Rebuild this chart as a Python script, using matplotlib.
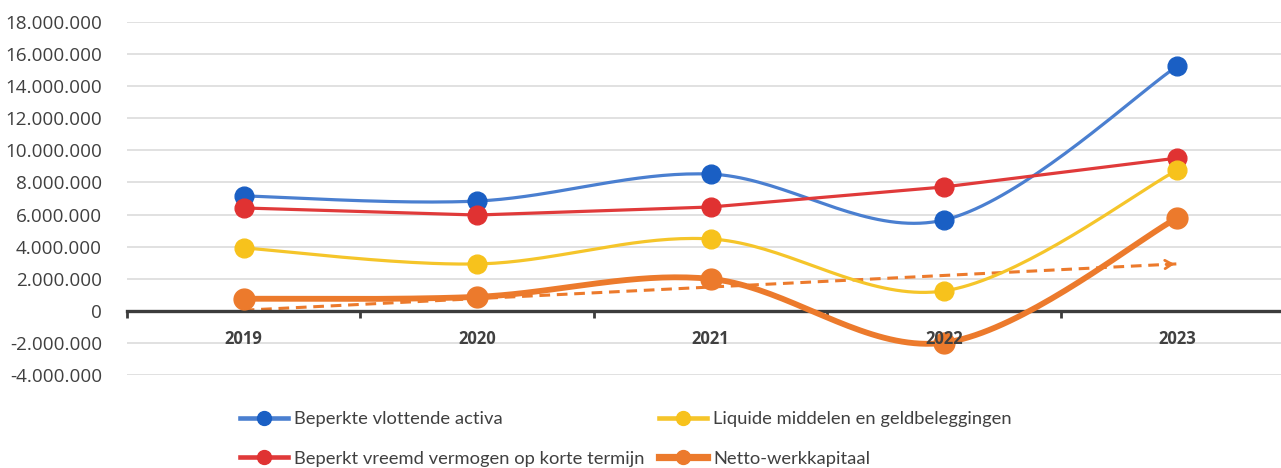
import numpy as np
import matplotlib
matplotlib.use("Agg")
import matplotlib.pyplot as plt
from matplotlib.ticker import FuncFormatter, FixedLocator

plt.rcParams['font.family'] = ['Open Sans', 'DejaVu Sans']

years = ["2019", "2020", "2021", "2022", "2023"]
vlottende_activa = [7160000, 6840000, 8520000, 5660000, 15250000]
vreemd_vermogen_kt = [6410000, 5970000, 6470000, 7720000, 9520000]
liquide_middelen = [3920000, 2920000, 4480000, 1240000, 8770000]
netto_werkkapitaal = [750000, 870000, 1990000, -1990000, 5790000]

labels = ["Beperkte vlottende activa",
          "Liquide middelen en geldbeleggingen",
          "Beperkt vreemd vermogen op korte termijn",
          "Netto-werkkapitaal"]

TXT = "#404040"


def smooth(x, y, n=40):
    """Catmull-Rom style Bezier smoothing through every point."""
    x = np.asarray(x, float)
    y = np.asarray(y, float)
    px = np.concatenate([[x[0]], x, [x[-1]]])
    py = np.concatenate([[y[0]], y, [y[-1]]])
    xs, ys = [], []
    t = np.linspace(0, 1, n)
    for i in range(1, len(x)):
        p0 = np.array([px[i], py[i]])
        p3 = np.array([px[i + 1], py[i + 1]])
        c1 = p0 + (np.array([px[i + 1], py[i + 1]]) - np.array([px[i - 1], py[i - 1]])) / 6
        c2 = p3 - (np.array([px[i + 2], py[i + 2]]) - p0) / 6
        b = ((1 - t) ** 3)[:, None] * p0 + (3 * (1 - t) ** 2 * t)[:, None] * c1 \
            + (3 * (1 - t) * t ** 2)[:, None] * c2 + (t ** 3)[:, None] * p3
        xs.append(b[:, 0])
        ys.append(b[:, 1])
    return np.concatenate(xs), np.concatenate(ys)


W, H = 1281, 468
fig = plt.figure(figsize=(W / 100, H / 100), dpi=100)
ax = fig.add_axes([127 / W, 1 - 375 / H, (1294 - 127) / W, (375 - 22) / H])

x = np.arange(len(years))

series = [
    (vlottende_activa, "#4a7fd0", "#1a5fc4", 2.3, 13.5, True, labels[0]),
    (vreemd_vermogen_kt, "#e03a3a", "#e03232", 2.3, 13.5, False, labels[2]),
    (liquide_middelen, "#f5c52a", "#f7c21c", 2.3, 13.5, True, labels[1]),
    (netto_werkkapitaal, "#ec7a2c", "#ec7a2c", 4.2, 15, True, labels[3]),
]

handles = {}
for vals, lc, mc, lw, ms, sm, lab in series:
    if sm:
        sx, sy = smooth(x, vals)
    else:
        sx, sy = x, np.asarray(vals, float)
    ax.plot(sx, sy, color=lc, lw=lw, solid_capstyle='round', zorder=3)
    ax.plot(x, vals, 'o', color=mc, ms=ms, mec=mc, zorder=4)
    handles[lab] = plt.Line2D([], [], color=lc, lw=lw + 1, marker='o', ms=10,
                              mfc=mc, mec=mc)

# linear trend of the net working capital
coef = np.polyfit(x, netto_werkkapitaal, 1)
tx = np.array([x[0], x[-1]], float)
ty = np.polyval(coef, tx)
ax.plot(tx, ty, color="#ec7a2c", lw=2.2, ls=(0, (3.5, 2.2)), zorder=2)
ax.annotate("", xy=(tx[1], ty[1]), xytext=(tx[1] - 0.06, np.polyval(coef, tx[1] - 0.06)),
            arrowprops=dict(arrowstyle="->,head_length=0.5,head_width=0.3",
                            color="#ec7a2c", lw=2.0), zorder=2)

ax.set_xlim(-0.5, 4.5)
ax.set_ylim(-4000000, 18000000)

ax.yaxis.set_major_locator(FixedLocator(np.arange(-4000000, 18000001, 2000000)))
ax.yaxis.set_major_formatter(FuncFormatter(lambda v, p: f"{int(v):,}".replace(",", ".")))
ax.grid(axis='y', color="#d9d9d9", lw=1.1, zorder=0)
ax.set_axisbelow(True)

for s in ["top", "right", "left"]:
    ax.spines[s].set_visible(False)
ax.spines["bottom"].set_position(("data", 0))
ax.spines["bottom"].set_color("#3c3c3c")
ax.spines["bottom"].set_linewidth(2.4)
ax.spines["bottom"].set_zorder(2.5)

# year labels sit just under the zero line, above the series
ax.set_xticks(x)
ax.set_xticklabels([])
for i, yr in enumerate(years):
    ax.annotate(yr, xy=(i, 0), xytext=(0, -14), textcoords='offset points',
                ha='center', va='top', fontsize=12, fontweight='bold',
                color=TXT, zorder=6)
ax.set_xticks(np.arange(-0.5, 5.0, 1.0), minor=True)
ax.tick_params(axis='x', which='major', length=0)
ax.tick_params(axis='x', which='minor', length=5, width=2, color="#3c3c3c", direction='out')
ax.tick_params(axis='y', length=0, pad=18, labelsize=13.6, labelcolor=TXT)

order = [labels[0], labels[2], labels[1], labels[3]]
leg = fig.legend([handles[l] for l in order], order, loc='upper left',
                 bbox_to_anchor=(240 / W, 1 - 411 / H), ncol=2, frameon=False,
                 prop={'family': 'Lato', 'size': 13.2},
                 handlelength=2.6, handletextpad=0.35,
                 columnspacing=0.8, labelspacing=1.3, borderpad=0, borderaxespad=0)
for t in leg.get_texts():
    t.set_color(TXT)

fig.savefig("out.png", dpi=100, facecolor="white")
